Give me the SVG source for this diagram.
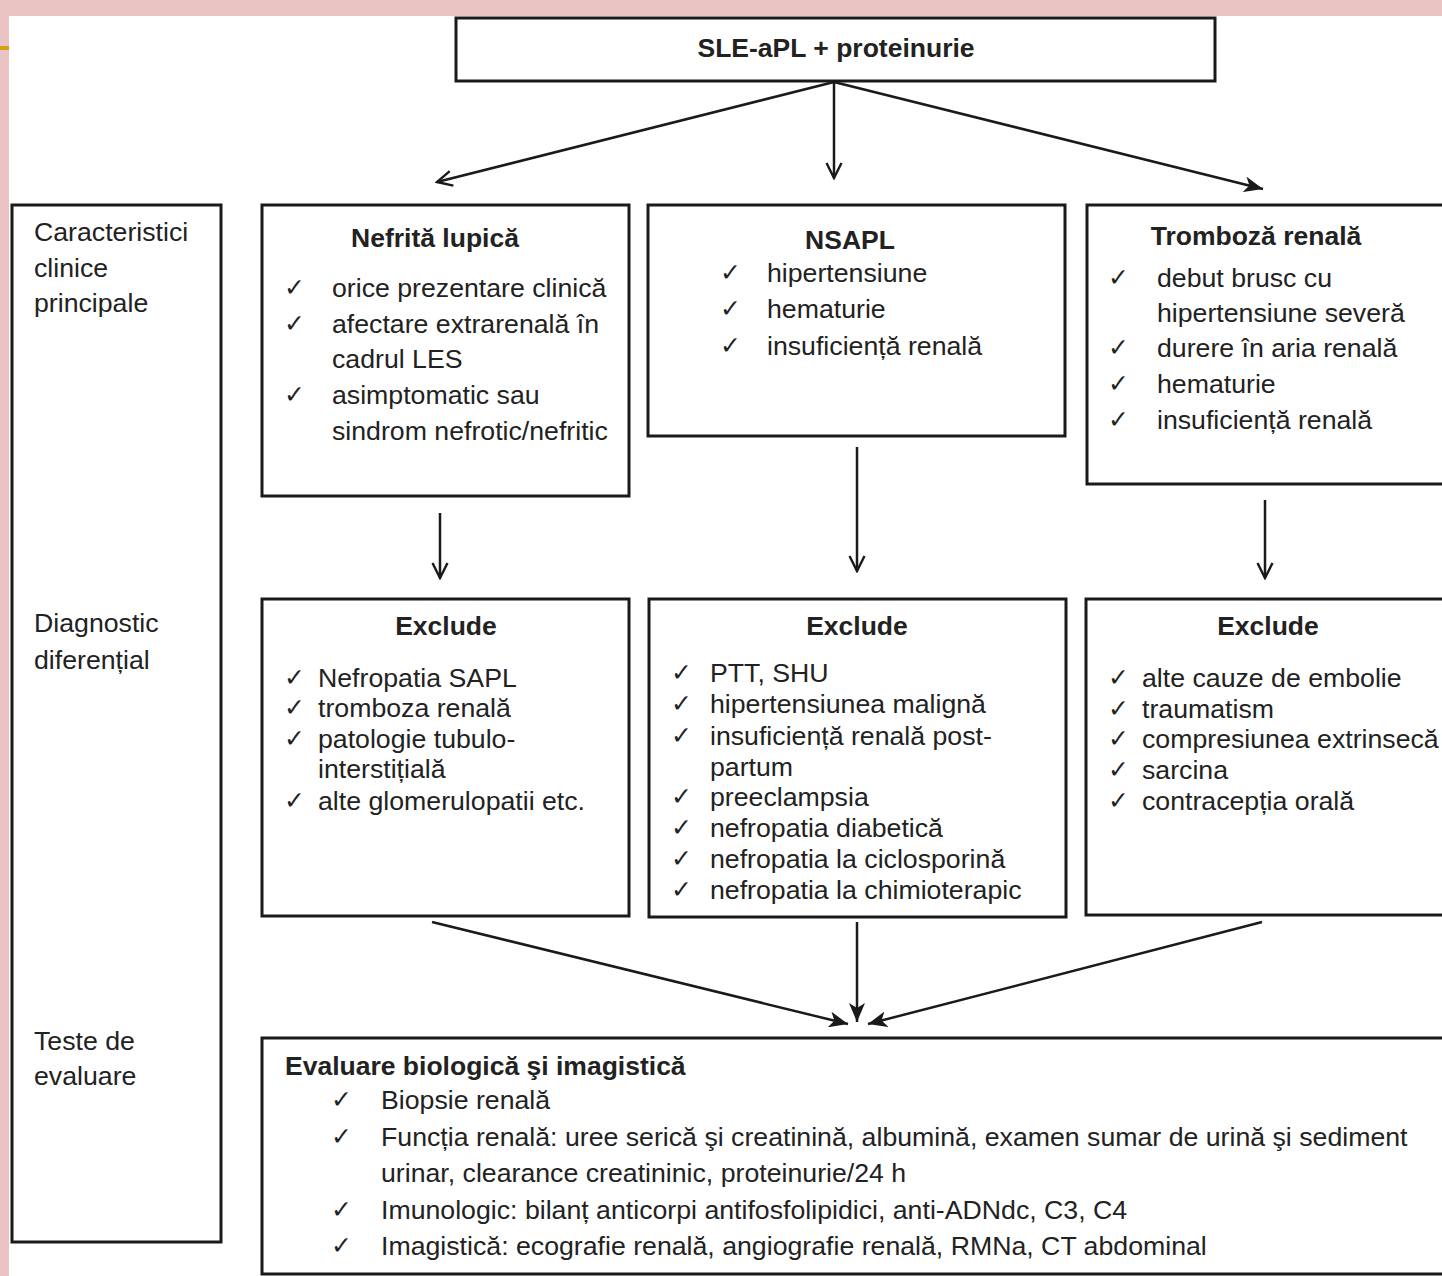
<svg xmlns="http://www.w3.org/2000/svg" width="1442" height="1276" viewBox="0 0 1442 1276">
<defs>
<style>
.bg{fill:#eac3c3}
.box{fill:#ffffff;stroke:#1a1a1a;stroke-width:3}
.t{font-family:"Liberation Sans",Arial,sans-serif;font-size:26.7px;fill:#222}
.b{font-family:"Liberation Sans",Arial,sans-serif;font-size:26.5px;font-weight:bold;fill:#222}
.c{font-family:"DejaVu Sans",sans-serif;font-size:25px;fill:#222}
.m{text-anchor:middle}
.ln{stroke:#1a1a1a;stroke-width:2.5;fill:none}
</style>
<marker id="open" viewBox="0 0 18 18" refX="16" refY="9" markerWidth="18" markerHeight="18" markerUnits="userSpaceOnUse" orient="auto">
<path d="M1,1.5 L16,9 L1,16.5" fill="none" stroke="#1a1a1a" stroke-width="2.4"/>
</marker>
<marker id="fill" viewBox="0 0 20 16" refX="19" refY="8" markerWidth="20" markerHeight="16" markerUnits="userSpaceOnUse" orient="auto">
<path d="M0,0 L19,8 L0,16 L5,8 Z" fill="#1a1a1a"/>
</marker>
</defs>
<rect class="bg" x="0" y="0" width="1442" height="1276"/>
<rect x="9" y="16" width="1433" height="1260" fill="#ffffff"/>
<rect x="0" y="46" width="9" height="4" fill="#d4a017"/>

<g id="top">
<rect class="box" x="456" y="18" width="759" height="63"/>
<text class="b m" x="836" y="57">SLE-aPL + proteinurie</text>
</g>

<g id="labels">
<rect class="box" x="12" y="205" width="209" height="1037"/>
<text class="t" x="34" y="241">Caracteristici</text>
<text class="t" x="34" y="277">clinice</text>
<text class="t" x="34" y="312">principale</text>
<text class="t" x="34" y="632">Diagnostic</text>
<text class="t" x="34" y="669">diferențial</text>
<text class="t" x="34" y="1050">Teste de</text>
<text class="t" x="34" y="1085">evaluare</text>
</g>

<g id="nefrita">
<rect class="box" x="262" y="205" width="367" height="291"/>
<text class="b m" x="435" y="247">Nefrită lupică</text>
<text class="c" x="284" y="296">✓</text><text class="t" x="332" y="297">orice prezentare clinică</text>
<text class="c" x="284" y="332">✓</text><text class="t" x="332" y="333">afectare extrarenală în</text>
<text class="t" x="332" y="368">cadrul LES</text>
<text class="c" x="284" y="403">✓</text><text class="t" x="332" y="404">asimptomatic sau</text>
<text class="t" x="332" y="440">sindrom nefrotic/nefritic</text>
</g>

<g id="nsapl">
<rect class="box" x="648" y="205" width="417" height="231"/>
<text class="b m" x="850" y="249">NSAPL</text>
<text class="c" x="720" y="281">✓</text><text class="t" x="767" y="282">hipertensiune</text>
<text class="c" x="720" y="317">✓</text><text class="t" x="767" y="318">hematurie</text>
<text class="c" x="720" y="354">✓</text><text class="t" x="767" y="355">insuficiență renală</text>
</g>

<g id="tromboza">
<rect class="box" x="1087" y="205" width="360" height="279"/>
<text class="b m" x="1256" y="245">Tromboză renală</text>
<text class="c" x="1108" y="286">✓</text><text class="t" x="1157" y="287">debut brusc cu</text>
<text class="t" x="1157" y="322">hipertensiune severă</text>
<text class="c" x="1108" y="356">✓</text><text class="t" x="1157" y="357">durere în aria renală</text>
<text class="c" x="1108" y="392">✓</text><text class="t" x="1157" y="393">hematurie</text>
<text class="c" x="1108" y="428">✓</text><text class="t" x="1157" y="429">insuficiență renală</text>
</g>

<g id="exclude1">
<rect class="box" x="262" y="599" width="367" height="317"/>
<text class="b m" x="446" y="635">Exclude</text>
<text class="c" x="284" y="686">✓</text><text class="t" x="318" y="687">Nefropatia SAPL</text>
<text class="c" x="284" y="716">✓</text><text class="t" x="318" y="717">tromboza renală</text>
<text class="c" x="284" y="747">✓</text><text class="t" x="318" y="748">patologie tubulo-</text>
<text class="t" x="318" y="778">interstițială</text>
<text class="c" x="284" y="809">✓</text><text class="t" x="318" y="810">alte glomerulopatii etc.</text>
</g>

<g id="exclude2">
<rect class="box" x="649" y="599" width="417" height="318"/>
<text class="b m" x="857" y="635">Exclude</text>
<text class="c" x="671" y="681">✓</text><text class="t" x="710" y="682">PTT, SHU</text>
<text class="c" x="671" y="712">✓</text><text class="t" x="710" y="713">hipertensiunea malignă</text>
<text class="c" x="671" y="744">✓</text><text class="t" x="710" y="745">insuficiență renală post-</text>
<text class="t" x="710" y="776">partum</text>
<text class="c" x="671" y="805">✓</text><text class="t" x="710" y="806">preeclampsia</text>
<text class="c" x="671" y="836">✓</text><text class="t" x="710" y="837">nefropatia diabetică</text>
<text class="c" x="671" y="867">✓</text><text class="t" x="710" y="868">nefropatia la ciclosporină</text>
<text class="c" x="671" y="898">✓</text><text class="t" x="710" y="899">nefropatia la chimioterapic</text>
</g>

<g id="exclude3">
<rect class="box" x="1086" y="599" width="360" height="316"/>
<text class="b m" x="1268" y="635">Exclude</text>
<text class="c" x="1108" y="686">✓</text><text class="t" x="1142" y="687">alte cauze de embolie</text>
<text class="c" x="1108" y="717">✓</text><text class="t" x="1142" y="718">traumatism</text>
<text class="c" x="1108" y="747">✓</text><text class="t" x="1142" y="748">compresiunea extrinsecă</text>
<text class="c" x="1108" y="778">✓</text><text class="t" x="1142" y="779">sarcina</text>
<text class="c" x="1108" y="809">✓</text><text class="t" x="1142" y="810">contracepția orală</text>
</g>

<g id="evaluare">
<rect class="box" x="262" y="1038" width="1190" height="236"/>
<text class="b" x="285" y="1075">Evaluare biologică şi imagistică</text>
<text class="c" x="331" y="1108">✓</text><text class="t" x="381" y="1109">Biopsie renală</text>
<text class="c" x="331" y="1145">✓</text><text class="t" x="381" y="1146">Funcția renală: uree serică şi creatinină, albumină, examen sumar de urină şi sediment</text>
<text class="t" x="381" y="1182">urinar, clearance creatininic, proteinurie/24 h</text>
<text class="c" x="331" y="1218">✓</text><text class="t" x="381" y="1219">Imunologic: bilanț anticorpi antifosfolipidici, anti-ADNdc, C3, C4</text>
<text class="c" x="331" y="1254">✓</text><text class="t" x="381" y="1255">Imagistică: ecografie renală, angiografie renală, RMNa, CT abdominal</text>
</g>

<g id="connectors">
<line class="ln" x1="834" y1="82" x2="437" y2="182" marker-end="url(#open)"/>
<line class="ln" x1="834" y1="82" x2="834" y2="178" marker-end="url(#open)"/>
<line class="ln" x1="834" y1="82" x2="1263" y2="189" marker-end="url(#fill)"/>
<line class="ln" x1="440" y1="513" x2="440" y2="578" marker-end="url(#open)"/>
<line class="ln" x1="857" y1="447" x2="857" y2="571" marker-end="url(#open)"/>
<line class="ln" x1="1265" y1="500" x2="1265" y2="578" marker-end="url(#open)"/>
<line class="ln" x1="432" y1="922" x2="848" y2="1024" marker-end="url(#fill)"/>
<line class="ln" x1="857" y1="922" x2="857" y2="1022" marker-end="url(#fill)"/>
<line class="ln" x1="1262" y1="922" x2="868" y2="1024" marker-end="url(#fill)"/>
</g>
</svg>
